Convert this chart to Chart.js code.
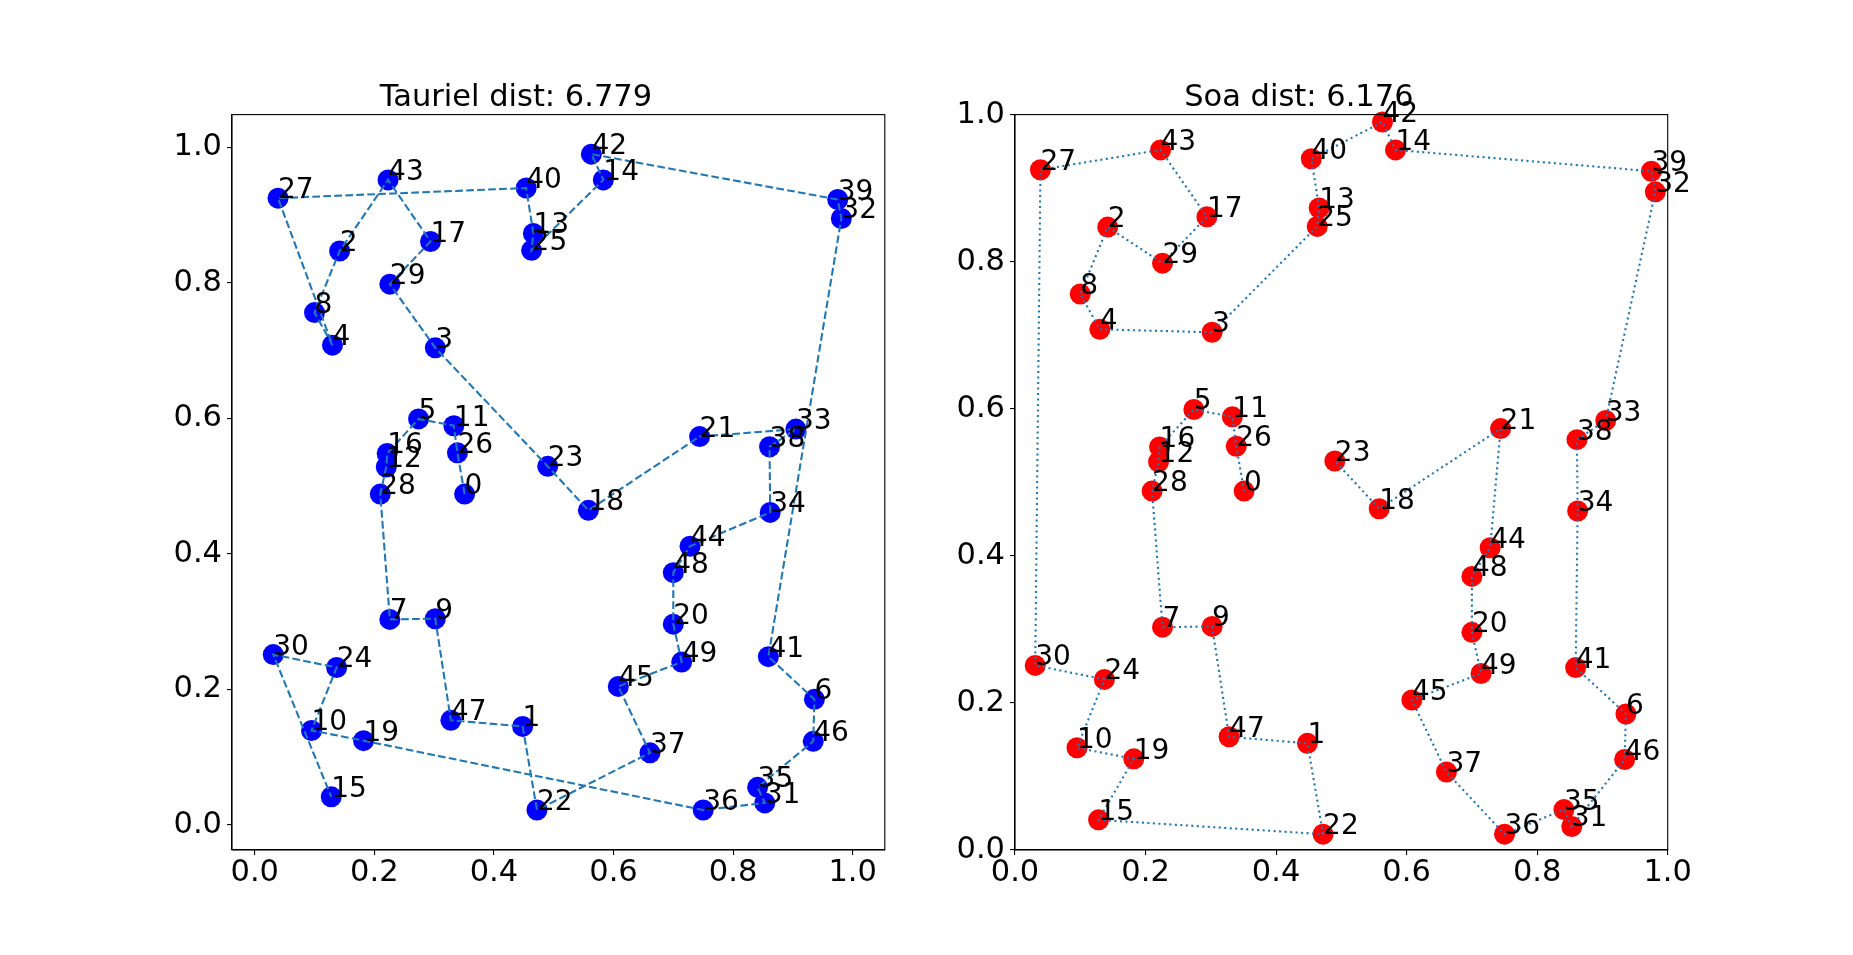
<!DOCTYPE html>
<html>
<head>
<meta charset="utf-8">
<script src="https://cdn.jsdelivr.net/npm/chart.js@4"></script>
<style>
  html, body { margin: 0; padding: 0; background: #ffffff; }
  body { width: 1853px; height: 955px; position: relative; overflow: hidden; }
  canvas { position: absolute; top: 0; }
</style>
</head>
<body>
<canvas id="left" width="768" height="955" style="left:146.6px"></canvas>
<canvas id="right" width="768" height="955" style="left:930px"></canvas>
<script>
// City coordinates (index = city id)
const cityX = [0.351,0.448,0.142,0.302,0.130,0.274,0.936,0.226,0.100,0.302,
               0.095,0.333,0.220,0.466,0.583,0.128,0.2215,0.294,0.558,0.182,
               0.700,0.744,0.472,0.490,0.137,0.463,0.339,0.039,0.210,0.226,
               0.031,0.853,0.981,0.905,0.862,0.841,0.750,0.661,0.861,0.975,
               0.454,0.859,0.563,0.223,0.728,0.608,0.934,0.328,0.700,0.714];
const cityY = [0.488,0.145,0.847,0.704,0.708,0.599,0.185,0.303,0.756,0.304,
               0.139,0.589,0.528,0.873,0.952,0.041,0.548,0.861,0.464,0.124,
               0.296,0.573,0.0215,0.529,0.232,0.848,0.549,0.925,0.488,0.798,
               0.251,0.032,0.895,0.584,0.461,0.055,0.0215,0.106,0.558,0.923,
               0.940,0.248,0.990,0.952,0.411,0.204,0.123,0.154,0.372,0.240];
// Visiting orders
const tauTour = [0,26,11,5,16,12,28,7,9,47,1,22,37,45,49,20,48,44,34,38,33,21,18,23,3,29,17,43,2,8,4,27,40,13,25,14,42,39,32,41,6,46,35,31,36,19,10,24,30,15];
const soaTour = [0,26,11,5,16,12,28,7,9,47,1,22,15,19,10,24,30,27,43,17,29,2,8,4,3,25,13,40,42,14,39,32,33,38,34,41,6,46,31,35,36,37,45,49,20,48,44,21,18,23];
const tickValues = [0,0.2,0.4,0.6,0.8,1.0];
const titles = ['Tauriel dist: 6.779', 'Soa dist: 6.176'];

const FONT = 'DejaVu Sans';

const labelPlugin = {
  id: 'cityLabels',
  afterDatasetsDraw(chart) {
    const ctx = chart.ctx;
    const meta = chart.getDatasetMeta(1);
    ctx.save();
    ctx.font = '28px "' + FONT + '"';
    ctx.fillStyle = '#000';
    ctx.textAlign = 'left';
    ctx.textBaseline = 'alphabetic';
    meta.data.forEach((el, i) => {
      ctx.fillText(String(i), el.x, el.y);
    });
    ctx.restore();
  }
};
const framePlugin = {
  id: 'frame',
  afterDraw(chart) {
    const a = chart.chartArea, ctx = chart.ctx;
    ctx.save();
    ctx.strokeStyle = '#000';
    ctx.lineWidth = 1.1;
    ctx.strokeRect(a.left, a.top, a.right - a.left, a.bottom - a.top);
    ctx.restore();
  }
};

function makeChart(id, tour, pointColor, dash, title, xr, yr, padRight) {
  const cities = cityX.map((x, i) => ({x: x, y: cityY[i]}));
  const path = tour.map(i => ({x: cityX[i], y: cityY[i]}));
  const axis = (range, isX) => ({
    type: 'linear',
    min: range[0], max: range[1],
    afterBuildTicks: s => { s.ticks = tickValues.map(v => ({value: v})); },
    afterFit: s => { if (isX) s.height = 80; else s.width = 85; },
    ticks: {
      color: '#000',
      font: {family: FONT, size: 30.5},
      padding: isX ? 0 : 5,
      autoSkip: false,
      maxRotation: 0,
      callback: v => Number(v).toFixed(1)
    },
    grid: {display: true, drawOnChartArea: false, drawTicks: true, tickLength: 5, color: '#000', lineWidth: 1.1},
    border: {display: true, color: '#000', width: 1.1}
  });
  return new Chart(document.getElementById(id), {
    type: 'scatter',
    data: {
      datasets: [
        {
          data: path, showLine: true, pointRadius: 0, borderColor: '#1f77b4',
          borderWidth: 2.08, borderDash: dash, fill: false, order: 0, clip: false
        },
        {
          data: cities, pointRadius: 10.5, pointBackgroundColor: pointColor,
          pointBorderWidth: 0, borderColor: pointColor, showLine: false, order: 1, clip: false
        }
      ]
    },
    options: {
      responsive: false,
      animation: false,
      events: [],
      layout: {padding: {top: 0, left: 0, right: padRight, bottom: 25}},
      plugins: {
        legend: {display: false},
        tooltip: {enabled: false},
        title: {
          display: true, text: title, color: '#000',
          font: {family: FONT, size: 30.5, weight: 'normal', lineHeight: 1.0},
          padding: {top: 82.35, bottom: 1.75}
        }
      },
      scales: { x: axis(xr, true), y: axis(yr, false) }
    },
    plugins: [labelPlugin, framePlugin]
  });
}

makeChart('left', tauTour, '#0000ff', [7.7, 3.3], titles[0], [-0.038, 1.0537], [-0.0375, 1.0484], 768 - (884.4 - 146.6));
makeChart('right', soaTour, '#ff0000', [2.1, 3.4], titles[1], [0, 1], [0, 1], 768 - (1667.7 - 930));
</script>
</body>
</html>
